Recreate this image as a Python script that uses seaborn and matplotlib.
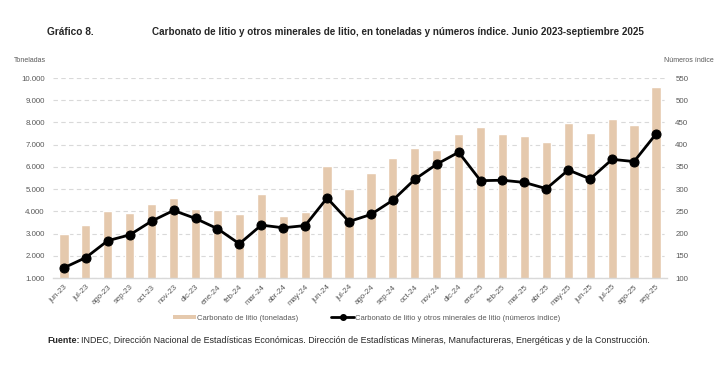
import numpy as np
import pandas as pd
import matplotlib
matplotlib.use("Agg")
import matplotlib.pyplot as plt
from matplotlib.ticker import FuncFormatter, MultipleLocator, FixedLocator
from matplotlib.patches import Patch
from matplotlib.lines import Line2D
import seaborn as sns

# Data
months = ["jun-23", "jul-23", "ago-23", "sep-23", "oct-23", "nov-23", "dic-23",
          "ene-24", "feb-24", "mar-24", "abr-24", "may-24", "jun-24", "jul-24",
          "ago-24", "sep-24", "oct-24", "nov-24", "dic-24", "ene-25", "feb-25",
          "mar-25", "abr-25", "may-25", "jun-25", "jul-25", "ago-25", "sep-25"]
toneladas = [2995, 3385, 4015, 3925, 4330, 4615, 4105,
             4045, 3865, 4800, 3790, 3985, 6060, 4995,
             5715, 6390, 6840, 6750, 7500, 7790, 7460,
             7370, 7140, 7960, 7530, 8140, 7890, 9590]
indice = [123, 146, 184, 197, 228, 252, 234,
          211, 177, 219, 213, 218, 280, 227,
          243, 275, 322, 356, 383, 319, 320,
          315, 301, 343, 323, 367, 362, 424]

df = pd.DataFrame({"mes": months, "toneladas": toneladas, "indice": indice})
df["pos"] = np.arange(len(df))

sns.set_style("white")
plt.rcParams["font.family"] = ["Liberation Sans", "DejaVu Sans"]

bar_color = "#e5c9ad"
txt_color = "#595959"
grid_color = "#d9d9d9"

fig = plt.figure(figsize=(7.15, 3.69), dpi=100)
ax = fig.add_axes([0.0741, 0.2466, 0.8587, 0.542])

sns.barplot(data=df, x="mes", y="toneladas", color=bar_color, width=0.42,
            saturation=1, ax=ax, zorder=2)
ax.set_ylim(1000, 10000)
ax.yaxis.set_major_locator(MultipleLocator(1000))
ax.yaxis.set_major_formatter(FuncFormatter(lambda v, p: f"{int(v):,}".replace(",", ".")))
ax.set_xlim(-0.5, len(df) - 0.5)
ax.set_axisbelow(True)
ax.grid(axis="y", color=grid_color, linestyle=(0, (4, 3)), linewidth=0.8)
ax.set_xlabel("")
ax.set_ylabel("")
for s in ["top", "left", "right"]:
    ax.spines[s].set_visible(False)
ax.spines["bottom"].set_color(grid_color)
ax.spines["bottom"].set_linewidth(1.0)
ax.tick_params(axis="y", length=0, labelsize=5.7, labelcolor=txt_color, pad=6)
ax.tick_params(axis="x", which="major", length=0, labelsize=5.7,
               labelcolor=txt_color, pad=4)
ax.xaxis.set_minor_locator(FixedLocator(np.arange(-0.5, len(df), 1.0)))
ax.tick_params(axis="x", which="minor", length=4, color=grid_color, width=0.8)
plt.setp(ax.get_xticklabels(), rotation=45, ha="right", rotation_mode="anchor")

ax2 = ax.twinx()
sns.lineplot(data=df, x="pos", y="indice", color="black", linewidth=2,
             marker="o", markersize=6.5, markeredgecolor="black", ax=ax2)
ax2.set_ylim(100, 550)
ax2.yaxis.set_major_locator(MultipleLocator(50))
ax2.set_xlim(-0.5, len(df) - 0.5)
ax2.set_xlabel("")
ax2.set_ylabel("")
for s in ["top", "left", "right", "bottom"]:
    ax2.spines[s].set_visible(False)
ax2.tick_params(axis="y", length=0, labelsize=5.7, labelcolor=txt_color, pad=6)

# Titles and axis captions
fig.text(0.066, 0.912, "Gráfico 8.", fontsize=7.3, fontweight="bold", va="center")
fig.text(0.212, 0.912,
         "Carbonato de litio y otros minerales de litio, en toneladas y números índice. Junio 2023-septiembre 2025",
         fontsize=7.1, fontweight="bold", va="center")
fig.text(0.019, 0.837, "Toneladas", fontsize=5, color=txt_color, va="center")
fig.text(0.998, 0.837, "Números índice", fontsize=5, color=txt_color,
         va="center", ha="right")

# Legend
handles = [Patch(facecolor=bar_color, edgecolor="none"),
           Line2D([0], [0], color="black", linewidth=2, marker="o", markersize=4)]
labels = ["Carbonato de litio (toneladas)",
          "Carbonato de litio y otros minerales de litio (números índice)"]
fig.legend(handles, labels, loc="center", bbox_to_anchor=(0.513, 0.138), ncol=2,
           frameon=False, fontsize=5.5, labelcolor=txt_color, handlelength=3.0,
           handleheight=0.55, handletextpad=0.15, columnspacing=4.3)

# Source note
fig.text(0.066, 0.078, "Fuente:", fontsize=6.4, fontweight="bold", va="center")
fig.text(0.1135, 0.078,
         "INDEC, Dirección Nacional de Estadísticas Económicas. Dirección de Estadísticas Mineras, Manufactureras, Energéticas y de la Construcción.",
         fontsize=6.4, va="center")

fig.savefig("out.png", dpi=100)
